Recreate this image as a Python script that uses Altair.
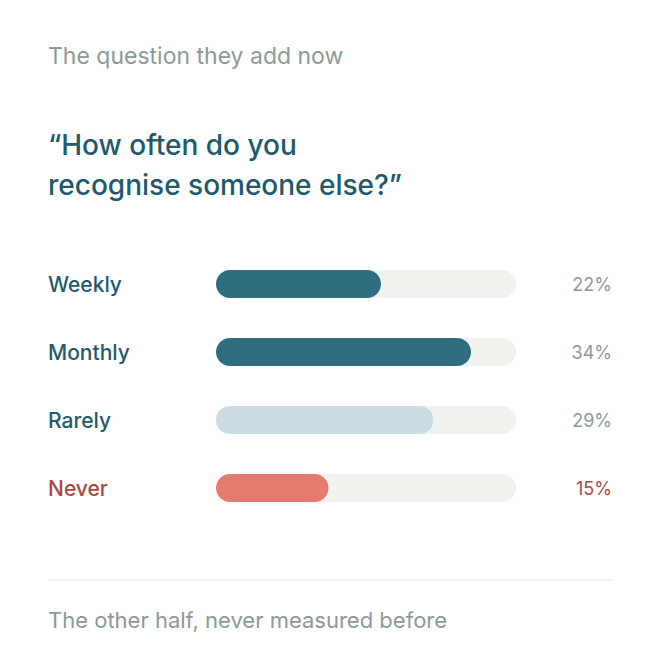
import altair as alt
import pandas as pd

categories = ["Weekly", "Monthly", "Rarely", "Never"]
values = [22, 34, 29, 15]
value_labels = ["22%", "34%", "29%", "15%"]
bar_colors = ["#2e6e80", "#2e6e80", "#cbdce2", "#e57a70"]
label_colors = ["#1f5b6b", "#1f5b6b", "#1f5b6b", "#a94a40"]
pct_colors = ["#8c9a95", "#8c9a95", "#8c9a95", "#a94a40"]
scale_max = 40

FONT = "Inter"

df = pd.DataFrame({
    "cat": categories,
    "value": values,
    "label": value_labels,
    "bar_color": bar_colors,
    "label_color": label_colors,
    "pct_color": pct_colors,
    "full": [scale_max] * len(categories),
    "zero": [0] * len(categories),
})

x_scale = alt.Scale(domain=[0, scale_max], range=[208, 508])
y_scale = alt.Scale(type="point", domain=categories, range=[276, 480], padding=0)

base = alt.Chart(df)

track = base.mark_bar(size=28, cornerRadius=14, color="#f0f2ee").encode(
    x=alt.X("zero:Q", scale=x_scale, axis=None),
    x2="full:Q",
    y=alt.Y("cat:N", scale=y_scale, axis=None),
)

bars = base.mark_bar(size=28, cornerRadius=14).encode(
    x=alt.X("zero:Q", scale=x_scale, axis=None),
    x2="value:Q",
    y=alt.Y("cat:N", scale=y_scale, axis=None),
    color=alt.Color("bar_color:N", scale=None, legend=None),
)

cat_labels = base.mark_text(align="left", baseline="middle", font=FONT, fontSize=21, fontWeight=500, dy=2).encode(
    x=alt.value(40),
    y=alt.Y("cat:N", scale=y_scale, axis=None),
    text="cat:N",
    color=alt.Color("label_color:N", scale=None, legend=None),
)

pct_labels = base.mark_text(align="right", baseline="middle", font=FONT, fontSize=18, dy=2).encode(
    x=alt.value(604),
    y=alt.Y("cat:N", scale=y_scale, axis=None),
    text="label:N",
    color=alt.Color("pct_color:N", scale=None, legend=None),
)

header = alt.Chart(pd.DataFrame({"t": ["The question they add now"]})).mark_text(
    align="left", baseline="middle", font=FONT, fontSize=23, color="#8c9a95"
).encode(x=alt.value(40), y=alt.value(49), text="t:N")

question = alt.Chart(pd.DataFrame({"t": ["\u201cHow often do you", "recognise someone else?\u201d"], "yy": [139, 179]})).mark_text(
    align="left", baseline="middle", font=FONT, fontSize=28, fontWeight=500, color="#1d5a6b"
).encode(x=alt.value(40), y=alt.Y("yy:Q", scale=alt.Scale(domain=[0, 644], range=[0, 644]), axis=None), text="t:N")

divider = alt.Chart(pd.DataFrame({"a": [0]})).mark_rule(color="#ecedea", strokeWidth=1.5).encode(
    x=alt.value(40), x2=alt.value(604), y=alt.value(572)
)

footer = alt.Chart(pd.DataFrame({"t": ["The other half, never measured before"]})).mark_text(
    align="left", baseline="middle", font=FONT, fontSize=22, color="#8c9a95"
).encode(x=alt.value(40), y=alt.value(613), text="t:N")

chart = alt.layer(track, bars, cat_labels, pct_labels, header, question, divider, footer).resolve_scale(
    y="independent"
).properties(
    width=644, height=644, autosize=alt.AutoSizeParams(type="none"), padding=0, background="white"
).configure_view(stroke=None)

chart.save("out.html", embed_options={"renderer": "svg", "actions": False})
